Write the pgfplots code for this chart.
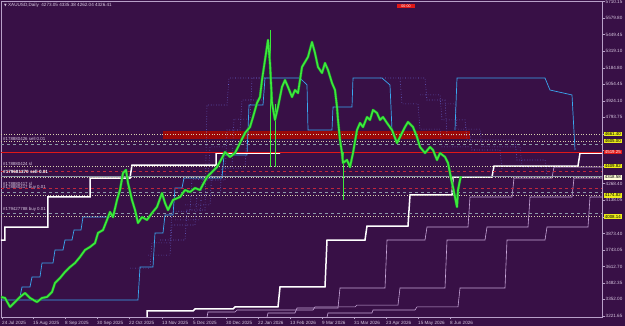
\documentclass[border=0pt]{standalone}
\usepackage{pgfplots}
\pgfplotsset{compat=1.18}
\usepackage{fontspec}
\setmainfont{Liberation Sans}
\newfontfamily\sym{DejaVu Sans}
\definecolor{bg}{HTML}{381046}
\definecolor{frame}{HTML}{B8A0C8}
\definecolor{txt}{HTML}{D8C8E0}
\definecolor{grn}{HTML}{3CE83C}
\definecolor{dgrn}{HTML}{1E8A2A}
\definecolor{lav}{HTML}{C8A8D8}
\definecolor{bsol}{HTML}{3AA8F0}
\definecolor{bdot}{HTML}{6A6AD8}
\definecolor{redband}{HTML}{9A0808}
\definecolor{redline}{HTML}{E01818}
\definecolor{lvl}{HTML}{D8D0B0}
\definecolor{gdash}{HTML}{8C98A8}
\definecolor{rdash}{HTML}{C0283C}
\definecolor{ylw}{HTML}{ECEC1A}
\begin{document}
\begin{tikzpicture}[x=1pt,y=1pt]
\fill[bg] (0,0) rectangle (625,326);
\path[use as bounding box] (0,0) rectangle (625,326);
\begin{axis}[
  at={(1pt,9pt)}, anchor=south west,
  scale only axis, width=601pt, height=316pt,
  xmin=1, xmax=602, ymin=3212.4, ymax=5715.1,
  clip mode=individual,
  axis line style={draw=frame, line width=0.6pt},
  tick style={draw=frame, line width=0.5pt},
  tick align=outside, major tick length=2.5pt,
  xtick pos=bottom, ytick pos=right, yticklabel pos=right,
  xtick={2,33,65,97,129,162,193,226,258,290,322,354,386,418,450},
  xticklabels={24 Jul 2025,15 Aug 2025,8 Sep 2025,30 Sep 2025,22 Oct 2025,13 Nov 2025,5 Dec 2025,30 Dec 2025,22 Jan 2026,13 Feb 2026,9 Mar 2026,31 Mar 2026,23 Apr 2026,15 May 2026,8 Jun 2026},
  ytick={5710.15,5579.80,5449.45,5319.10,5184.80,5054.45,4924.10,4793.75,4663.40,4533.05,4402.70,4268.40,4138.05,4003.75,3873.40,3743.05,3612.70,3482.35,3352.00,3221.65},
  yticklabels={5710.15,5579.80,5449.45,5319.10,5184.80,5054.45,4924.10,4793.75,,,,4268.40,4138.05,,3873.40,3743.05,3612.70,3482.35,3352.00,3221.65},
  ticklabel style={font=\fontsize{4.6}{5}\selectfont, text=txt},
  xticklabel style={anchor=north west, inner sep=0pt, yshift=-1.5pt},
  yticklabel style={anchor=west, inner sep=0pt, xshift=1pt},
]
% red band
\addplot[draw=none, fill=redband] coordinates {(163,4685) (470,4685) (470,4622) (163,4622)} --cycle;
% dotted blue staircases
\addplot[bdot, dotted, line width=0.6pt] coordinates {(130,3600)(150,3600)(152,3800)(170,3800)(172,4050)(190,4050)(192,4300)(208,4300)(210,4560)(225,4560)};
\addplot[bdot, dotted, line width=0.6pt] coordinates {(148,3703)(170,3703)(172,3941)(195,3941)(197,4179)(220,4179)(222,4392)(245,4392)(247,4654)(265,4654)};
\addplot[bdot, dotted, line width=0.6pt] coordinates {(160,3822)(185,3822)(187,4060)(205,4060)(207,4891)(227,4891)(229,5105)(265,5105)};
\addplot[bdot, dotted, line width=0.6pt] coordinates {(175,3981)(200,3981)(202,4297)(225,4297)(227,4693)(240,4693)(242,4931)(262,4931)};
\addplot[bdot, dotted, line width=0.6pt] coordinates {(185,4100)(210,4100)(212,4400)(232,4400)(234,4780)(250,4780)(252,5105)(270,5105)};
\addplot[bdot, dotted, line width=0.6pt] coordinates {(380,5105)(400,5105)(402,4900)(418,4900)(420,4700)(440,4700)(442,4560)(470,4560)};
\addplot[bdot, dotted, line width=0.6pt] coordinates {(400,5105)(425,5105)(427,4931)(445,4931)(447,4654)(470,4654)(472,4535)(500,4535)(502,4377)};
\addplot[bdot, dotted, line width=0.6pt] coordinates {(420,4971)(440,4971)(442,4773)(465,4773)(467,4614)(515,4614)(517,4456)(545,4456)(547,4337)};
\addplot[bdot, dotted, line width=0.6pt] coordinates {(440,4900)(455,4900)(457,4700)(480,4700)(482,4560)(520,4560)(522,4400)(560,4400)};
% solid blue staircases
\addplot[bsol, line width=0.7pt] coordinates {(1,3347)(138,3347)(140,3608)(153,3608)(155,3878)(163,3878)(165,4020)(173,4020)(175,4234)(182,4234)(184,4313)(222,4313)(224,4495)(247,4495)(249,4891)(263,4891)(265,5105)(300,5105)(307,5050)(308,4693)(332,4693)(333,4876)(352,4876)(353,5105)(382,5105)(390,5050)(392,4693)};
\addplot[bsol, line width=0.7pt] coordinates {(20,3371)(22,3450)(30,3450)(32,3529)(40,3529)(42,3640)(53,3640)(55,3743)(63,3743)(65,3822)(72,3822)(74,3901)(81,3901)(83,4004)(110,4004)};
\addplot[bsol, line width=0.7pt] coordinates {(455,4693)(457,5105)(545,5105)(550,5010)(572,4971)(575,4535)};
% lavender staircases
\addplot[lav, line width=0.6pt] coordinates {(267,3212)(268,3244)(295,3244)(297,3284)(338,3284)(340,3442)(385,3442)(387,3822)(425,3822)(427,3925)(468,3925)(470,4163)(512,4163)(514,4313)(552,4313)(554,4400)(602,4400)};
\addplot[lav, line width=0.6pt] coordinates {(207,3212)(208,3252)(235,3252)(237,3268)(313,3268)(315,3292)(355,3292)(357,3307)(398,3307)(400,3442)(445,3442)(447,3822)(485,3822)(487,3925)(528,3925)(530,4163)(572,4163)(574,4313)(602,4313)};
\addplot[lav, line width=0.6pt] coordinates {(327,3212)(328,3244)(372,3244)(373,3268)(415,3268)(417,3292)(458,3292)(460,3442)(505,3442)(507,3822)(545,3822)(547,3925)(588,3925)(590,4163)(602,4163)};
% white staircases
\addplot[white, line width=1.5pt] coordinates {(1,3822)(5,3822)(5,3925)(48,3925)(48,4163)(90,4163)(90,4313)(130,4313)(132,4416)(216,4416)(216,4511)(280,4511)};
\addplot[white, line width=1.5pt] coordinates {(147,3212)(147,3260)(193,3260)(195,3276)(233,3276)(235,3292)(278,3292)(280,3450)(325,3450)(327,3822)(365,3822)(367,3933)(408,3933)(410,4179)(452,4179)(453,4321)(492,4321)(494,4408)(578,4408)(580,4511)(602,4511)};
% horizontal levels
\addplot[lvl, dotted, line width=0.6pt] coordinates {(1,4661.40)(602,4661.40)};
\addplot[lvl, dotted, line width=0.6pt] coordinates {(1,4605.00)(602,4605.00)};
\addplot[gdash, dashed, line width=0.5pt] coordinates {(1,4582)(602,4582)};
\addplot[redline, line width=0.7pt] coordinates {(1,4519)(602,4519)};
\addplot[lvl, dotted, line width=0.6pt] coordinates {(1,4409.82)(602,4409.82)};
\addplot[rdash, dashed, line width=0.5pt] coordinates {(1,4369)(602,4369)};
\addplot[gdash, line width=0.6pt] coordinates {(1,4329)(602,4329)};
\addplot[lvl, dotted, line width=0.6pt] coordinates {(1,4318.58)(602,4318.58)};
\addplot[rdash, dashed, line width=0.5pt] coordinates {(1,4234)(602,4234)};
\addplot[gdash, dashed, line width=0.5pt] coordinates {(1,4202)(602,4202)};
\addplot[lvl, dotted, line width=0.6pt] coordinates {(1,4174.82)(602,4174.82)};
\addplot[gdash, dashed, line width=0.5pt] coordinates {(1,4036)(602,4036)};
\addplot[lvl, dotted, line width=0.6pt] coordinates {(1,4008.14)(602,4008.14)};
% wicks
\addplot[grn, line width=0.5pt] coordinates {(270,5485)(270,4400)};
\addplot[grn, line width=0.5pt] coordinates {(343,4520)(343,4139)};
\addplot[grn, line width=0.5pt] coordinates {(275,4900)(275,4400)};
% price (outline + body to mimic candles)
\addplot[dgrn, line width=2.6pt, line join=round] coordinates {
(1,3371)(5,3363)(10,3292)(15,3331)(20,3371)(25,3402)(30,3363)(37,3331)(42,3363)(47,3371)
(52,3410)(55,3482)(60,3521)(65,3569)(70,3608)(75,3640)(80,3688)(85,3743)(90,3767)(95,3798)
(98,3878)(103,3901)(107,3981)(110,4044)(113,4004)(117,4139)(120,4218)(123,4353)(126,4377)(128,4274)
(132,4139)(135,4060)(138,3957)(142,4004)(147,3981)(152,4036)(157,4084)(162,4194)(165,4115)(168,4060)
(173,4139)(180,4163)(185,4218)(190,4202)(195,4234)(200,4218)(207,4321)(212,4361)(217,4400)(222,4472)
(225,4519)(230,4480)(235,4511)(240,4590)(245,4670)(250,4717)(253,4796)(257,4907)(260,4955)(262,5089)
(265,5248)(268,5406)(270,5224)(272,4907)(275,4773)(278,4876)(282,5034)(285,5089)(288,5034)(292,4955)
(295,5010)(298,4986)(302,5192)(305,5232)(308,5272)(312,5390)(315,5303)(318,5192)(322,5145)(325,5224)
(328,5169)(332,5066)(335,5010)(337,4876)(338,4773)(340,4614)(342,4511)(343,4432)(347,4456)(350,4400)
(353,4511)(357,4693)(360,4749)(363,4717)(367,4796)(370,4773)(373,4852)(377,4828)(380,4773)(383,4796)
(387,4749)(392,4693)(397,4590)(400,4638)(405,4717)(408,4757)(413,4717)(417,4638)(420,4559)(425,4511)
(430,4559)(433,4535)(437,4456)(440,4511)(445,4480)(448,4432)(450,4353)(452,4274)(453,4242)(455,4163)
(457,4084)(458,4218)(460,4297)(461,4326)};
\addplot[grn, line width=1.6pt, line join=round] coordinates {
(1,3371)(5,3363)(10,3292)(15,3331)(20,3371)(25,3402)(30,3363)(37,3331)(42,3363)(47,3371)
(52,3410)(55,3482)(60,3521)(65,3569)(70,3608)(75,3640)(80,3688)(85,3743)(90,3767)(95,3798)
(98,3878)(103,3901)(107,3981)(110,4044)(113,4004)(117,4139)(120,4218)(123,4353)(126,4377)(128,4274)
(132,4139)(135,4060)(138,3957)(142,4004)(147,3981)(152,4036)(157,4084)(162,4194)(165,4115)(168,4060)
(173,4139)(180,4163)(185,4218)(190,4202)(195,4234)(200,4218)(207,4321)(212,4361)(217,4400)(222,4472)
(225,4519)(230,4480)(235,4511)(240,4590)(245,4670)(250,4717)(253,4796)(257,4907)(260,4955)(262,5089)
(265,5248)(268,5406)(270,5224)(272,4907)(275,4773)(278,4876)(282,5034)(285,5089)(288,5034)(292,4955)
(295,5010)(298,4986)(302,5192)(305,5232)(308,5272)(312,5390)(315,5303)(318,5192)(322,5145)(325,5224)
(328,5169)(332,5066)(335,5010)(337,4876)(338,4773)(340,4614)(342,4511)(343,4432)(347,4456)(350,4400)
(353,4511)(357,4693)(360,4749)(363,4717)(367,4796)(370,4773)(373,4852)(377,4828)(380,4773)(383,4796)
(387,4749)(392,4693)(397,4590)(400,4638)(405,4717)(408,4757)(413,4717)(417,4638)(420,4559)(425,4511)
(430,4559)(433,4535)(437,4456)(440,4511)(445,4480)(448,4432)(450,4353)(452,4274)(453,4242)(455,4163)
(457,4084)(458,4218)(460,4297)(461,4326)};
% left labels
\begin{scope}[every node/.style={font=\fontsize{4.4}{5}\selectfont, text=txt, anchor=west, inner sep=0pt}]
\node at (axis cs:3,4622) {\#178880426 sell 0.01};
\node at (axis cs:3,4424) {\#178880424 sl};
\node[text=white, font=\fontsize{4.6}{5}\bfseries] at (axis cs:3,4361) {\#179681370 sell 0.01};
\node at (axis cs:3,4268) {\#178880417 sl};
\node at (axis cs:3,4240) {\#178880417 buy 0.01};
\node at (axis cs:3,4068) {\#179427788 buy 0.01};
\end{scope}
% right price tags
\begin{scope}[every node/.style={font=\fontsize{4.4}{5}\selectfont, anchor=west, inner sep=0.7pt, text=black, fill=ylw}]
\node at (axis cs:604,4661.40) {4661.40};
\node at (axis cs:604,4605.00) {4605.00};
\node[fill=redline, text=white] at (axis cs:604,4519.25) {4519.25};
\node at (axis cs:604,4409.82) {4409.82};
\node[fill=white!85!yellow] at (axis cs:604,4318.58) {4318.58};
\node at (axis cs:604,4174.82) {4174.82};
\node at (axis cs:604,4008.14) {4008.14};
\end{scope}
\end{axis}
\node[anchor=west, inner sep=0pt, font=\fontsize{4.6}{5}\selectfont, text=txt] at (4,321) {{\sym\fontsize{3.5}{4}\selectfont ▼}\ XAUUSD,Daily\ \ 4273.05 4335.38 4262.04 4326.41};
\node[fill=redline, inner sep=0.8pt, font=\fontsize{3.6}{4}\selectfont, text=white, minimum width=18pt] at (406,320) {00:00};
\end{tikzpicture}
\end{document}
